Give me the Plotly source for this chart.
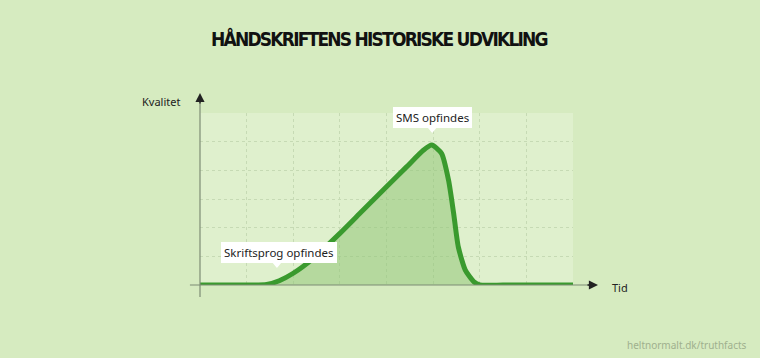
import plotly.graph_objects as go

# Data: time (x) vs quality (y)
time_vals = [0.0, 0.5, 1.0, 1.43, 1.7, 2.0, 2.43, 3.0, 3.43, 4.0, 4.43, 4.79, 4.97, 5.18, 5.33, 5.44, 5.54, 5.69, 5.87, 6.0, 6.5, 7.0, 7.5, 8.0]
quality_vals = [0.0, 0.0, 0.0, 0.02, 0.15, 0.41, 0.93, 1.80, 2.50, 3.43, 4.12, 4.70, 4.88, 4.59, 3.66, 2.50, 1.33, 0.52, 0.12, 0.0, 0.0, 0.0, 0.0, 0.0]

title_text = "HÅNDSKRIFTENS HISTORISKE UDVIKLING"
y_label = "Kvalitet"
x_label = "Tid"
credit = "heltnormalt.dk/truthfacts"

callout_texts = ["Skriftsprog opfindes", "SMS opfindes"]
callout_x = [1.65, 4.98]
callout_y = [0.59, 5.3]
callout_dx = [2, 0]

BG = "#d6ebc0"
PLOT_BG = "#dff0cd"
LINE = "#3a9a2e"
FILL = "rgba(145,198,120,0.55)"
FONT = "Noto Sans"

fig = go.Figure()
fig.add_trace(go.Scatter(
    x=time_vals, y=quality_vals, mode="lines",
    line=dict(color=LINE, width=5, shape="spline", smoothing=0.6),
    fill="tozeroy", fillcolor=FILL, hoverinfo="skip", showlegend=False,
))

fig.update_layout(
    width=760, height=358,
    margin=dict(l=200, r=187, t=113, b=73),
    paper_bgcolor=BG, plot_bgcolor=PLOT_BG,
    showlegend=False,
    xaxis=dict(range=[0, 8], dtick=1, showticklabels=False, ticks="",
               showgrid=True, gridcolor="#c6dab4", griddash="dot", gridwidth=1,
               zeroline=False, showline=False, fixedrange=True),
    yaxis=dict(range=[0, 6], dtick=1, showticklabels=False, ticks="",
               showgrid=True, gridcolor="#c6dab4", griddash="dot", gridwidth=1,
               zeroline=False, showline=False, fixedrange=True),
)

# Title
fig.add_annotation(text='<span style="letter-spacing:-1.8px"><b>' + title_text + "</b></span>",
                   xref="paper", yref="paper",
                   x=0.5, y=1, yshift=75, xshift=-7, xanchor="center", yanchor="middle",
                   showarrow=False,
                   font=dict(family="Liberation Sans Narrow, DejaVu Sans Condensed", size=19, color="#111"))

# Axis lines
fig.add_shape(type="line", xref="paper", yref="paper", x0=0, x1=0, y0=-0.07, y1=1.1,
              line=dict(color="#7d8c74", width=1.2))
fig.add_shape(type="line", xref="paper", yref="paper", x0=-0.027, x1=1.05, y0=0, y1=0,
              line=dict(color="#7d8c74", width=1.2))
# Arrowheads
fig.add_annotation(xref="paper", yref="paper", x=0, y=1, yshift=20, ax=0, ay=12,
                   showarrow=True, arrowhead=2, arrowsize=1.4, arrowwidth=1.3,
                   arrowcolor="#222", text="")
fig.add_annotation(xref="paper", yref="paper", x=1, y=0, xshift=25, ax=-12, ay=0,
                   showarrow=True, arrowhead=2, arrowsize=1.4, arrowwidth=1.3,
                   arrowcolor="#222", text="")

# Axis labels
fig.add_annotation(text=y_label, xref="paper", yref="paper", x=0, y=1, xshift=-18, yshift=12,
                   xanchor="right", yanchor="middle", showarrow=False,
                   font=dict(family=FONT, size=11, color="#222"))
fig.add_annotation(text=x_label, xref="paper", yref="paper", x=1, y=0, xshift=37, yshift=-2,
                   xanchor="left", yanchor="middle", showarrow=False,
                   font=dict(family=FONT, size=11, color="#222"))

# Credit
fig.add_annotation(text=credit, xref="paper", yref="paper", x=1, y=0, xshift=176, yshift=-60,
                   xanchor="right", yanchor="middle", showarrow=False,
                   font=dict(family=FONT, size=10, color="#9fb08e"))

# Callouts: white box + small white pointer triangle
for t, cx, cy, dx in zip(callout_texts, callout_x, callout_y, callout_dx):
    fig.add_annotation(text=t, x=cx, y=cy, xref="x", yref="y",
                       showarrow=False, xanchor="center", yanchor="bottom",
                       xshift=dx, yshift=5,
                       bgcolor="white", borderpad=3, borderwidth=0,
                       font=dict(family=FONT, size=11.5, color="#222"))
    fig.add_shape(type="path", xref="x", yref="y",
                  xsizemode="pixel", ysizemode="pixel", xanchor=cx, yanchor=cy,
                  path="M -5,6 L 5,6 L 0,0 Z",
                  fillcolor="white", line=dict(width=0), layer="above")

fig.write_html("out.html")
